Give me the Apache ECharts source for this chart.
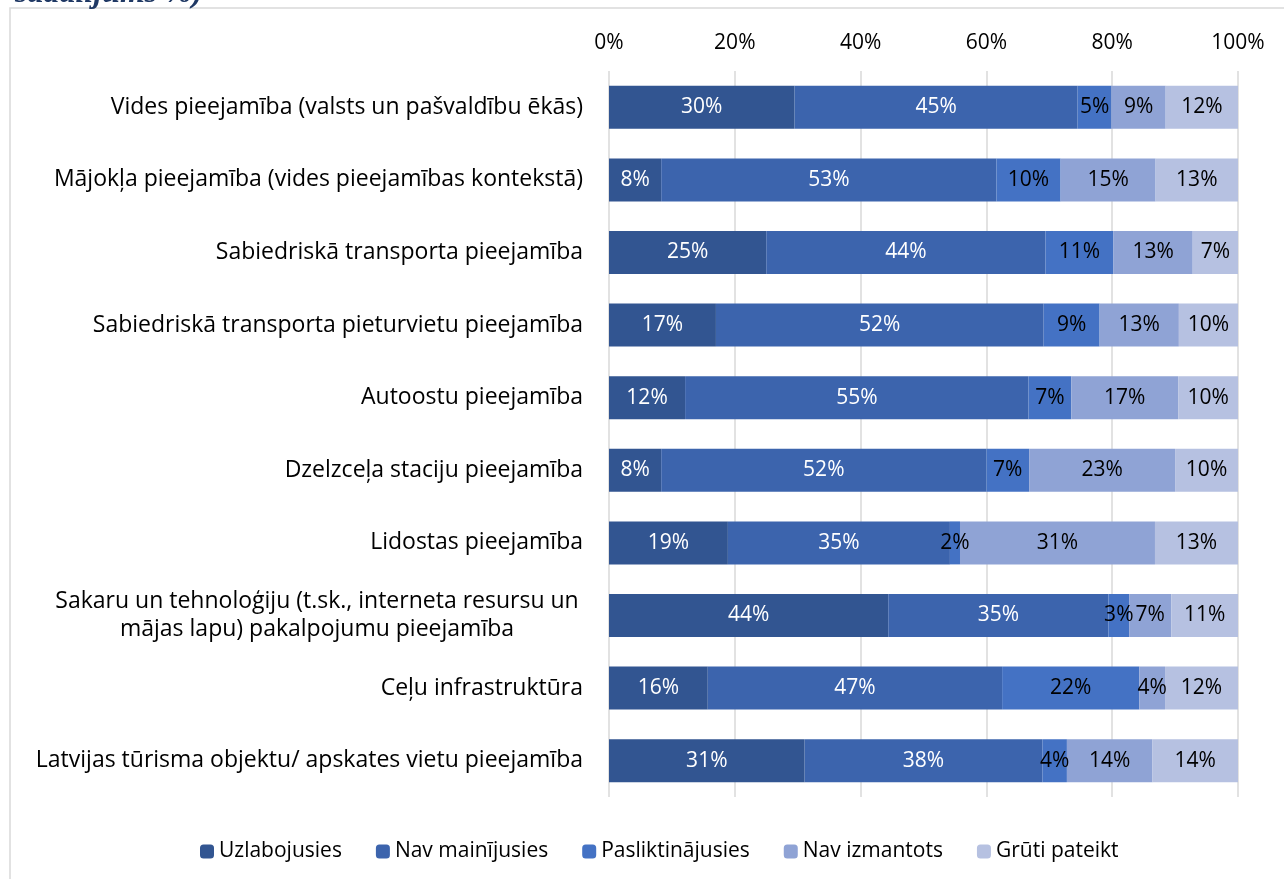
<!DOCTYPE html>
<html>
<head>
<meta charset="utf-8">
<script src="https://cdn.jsdelivr.net/npm/echarts@6/dist/echarts.min.js"></script>
<style>
  html, body { margin: 0; padding: 0; background: #fff; }
  #main { width: 1284px; height: 879px; }
</style>
</head>
<body>
<div id="main"></div>
<script>
// categories, top to bottom
var categories = [
    'Vides pieejamība (valsts un pašvaldību ēkās)',
    'Mājokļa pieejamība (vides pieejamības kontekstā)',
    'Sabiedriskā transporta pieejamība',
    'Sabiedriskā transporta pieturvietu pieejamība',
    'Autoostu pieejamība',
    'Dzelzceļa staciju pieejamība',
    'Lidostas pieejamība',
    'Sakaru un tehnoloģiju (t.sk., interneta resursu un\nmājas lapu) pakalpojumu pieejamība',
    'Ceļu infrastruktūra',
    'Latvijas tūrisma objektu/ apskates vietu pieejamība'
];
var seriesNames = ['Uzlabojusies', 'Nav mainījusies', 'Pasliktinājusies', 'Nav izmantots', 'Grūti pateikt'];

// shares in % (labels show rounded values)
var uzlabojusies    = [29.5,  8.3, 25.0, 17.0, 12.1,  8.3, 18.9, 44.4, 15.7, 31.1];
var navMainijusies  = [45.0, 53.3, 44.4, 52.1, 54.6, 51.7, 35.3, 35.0, 46.8, 37.8];
var pasliktinajusies= [ 5.4, 10.2, 10.8,  8.9,  6.8,  6.8,  1.6,  3.3, 21.8,  3.9];
var navIzmantots    = [ 8.6, 15.1, 12.6, 12.6, 17.0, 23.2, 31.0,  6.7,  4.1, 13.6];
var grutiPateikt    = [11.5, 13.2,  7.3,  9.6,  9.6, 10.0, 13.2, 10.7, 11.6, 13.6];

var xTicks = [0, 20, 40, 60, 80, 100];

var colors = ['#325591', '#3C64AD', '#4472C4', '#8FA3D5', '#B6C1E1'];
var labelColors = ['#ffffff', '#ffffff', '#000000', '#000000', '#000000'];
var dataSets = [uzlabojusies, navMainijusies, pasliktinajusies, navIzmantots, grutiPateikt];
var FONT = 'Open Sans';

var chartDom = document.getElementById('main');
var myChart = echarts.init(chartDom);
var option;

var series = [];
for (var i = 0; i < seriesNames.length; i++) {
    series.push({
        name: seriesNames[i],
        type: 'bar',
        stack: 'total',
        barWidth: 43,
        data: dataSets[i],
        itemStyle: { color: colors[i] },
        label: {
            show: true,
            position: 'inside',
            color: labelColors[i],
            fontFamily: FONT,
            fontSize: 21,
            formatter: function (p) { return Math.round(p.value) + '%'; }
        }
    });
}

option = {
    animation: false,
    color: colors,
    title: {
        text: 'sadalījums %)',
        left: 10,
        top: -27,
        textStyle: {
            fontFamily: 'Liberation Serif',
            fontWeight: 'bold',
            fontStyle: 'italic',
            fontSize: 32,
            color: '#1F3864'
        }
    },
    graphic: [
        {
            type: 'rect',
            shape: { x: 10, y: 8, width: 1300, height: 900 },
            style: { fill: 'none', stroke: '#d9d9d9', lineWidth: 1.5 },
            silent: true
        }
    ],
    legend: {
        data: seriesNames,
        left: 195,
        top: 836,
        itemWidth: 14,
        itemHeight: 14,
        itemGap: 34,
        textStyle: { fontFamily: FONT, fontSize: 21, color: '#000' }
    },
    grid: {
        left: 609,
        right: 46,
        top: 71,
        bottom: 82
    },
    xAxis: {
        type: 'value',
        position: 'top',
        min: 0,
        max: 100,
        interval: 20,
        axisLine: { show: false },
        axisTick: { show: false },
        splitLine: { lineStyle: { color: '#d9d9d9', width: 1.5 } },
        axisLabel: {
            margin: 17,
            fontFamily: FONT,
            fontSize: 21,
            color: '#000',
            formatter: function (v) { return xTicks.indexOf(v) >= 0 ? v + '%' : ''; }
        }
    },
    yAxis: {
        type: 'category',
        inverse: true,
        data: categories,
        axisLine: { show: false },
        axisTick: { show: false },
        axisLabel: {
            margin: 26,
            fontFamily: FONT,
            fontSize: 23,
            color: '#000',
            lineHeight: 28,
            formatter: function (v) {
                if (v.indexOf('\n') < 0) return v;
                return v.split('\n').map(function (s) { return '{c|' + s + '}'; }).join('\n');
            },
            rich: {
                c: { width: 532, align: 'center', fontFamily: FONT, fontSize: 23, color: '#000', lineHeight: 28 }
            }
        }
    },
    series: series
};

option && myChart.setOption(option);
</script>
</body>
</html>
